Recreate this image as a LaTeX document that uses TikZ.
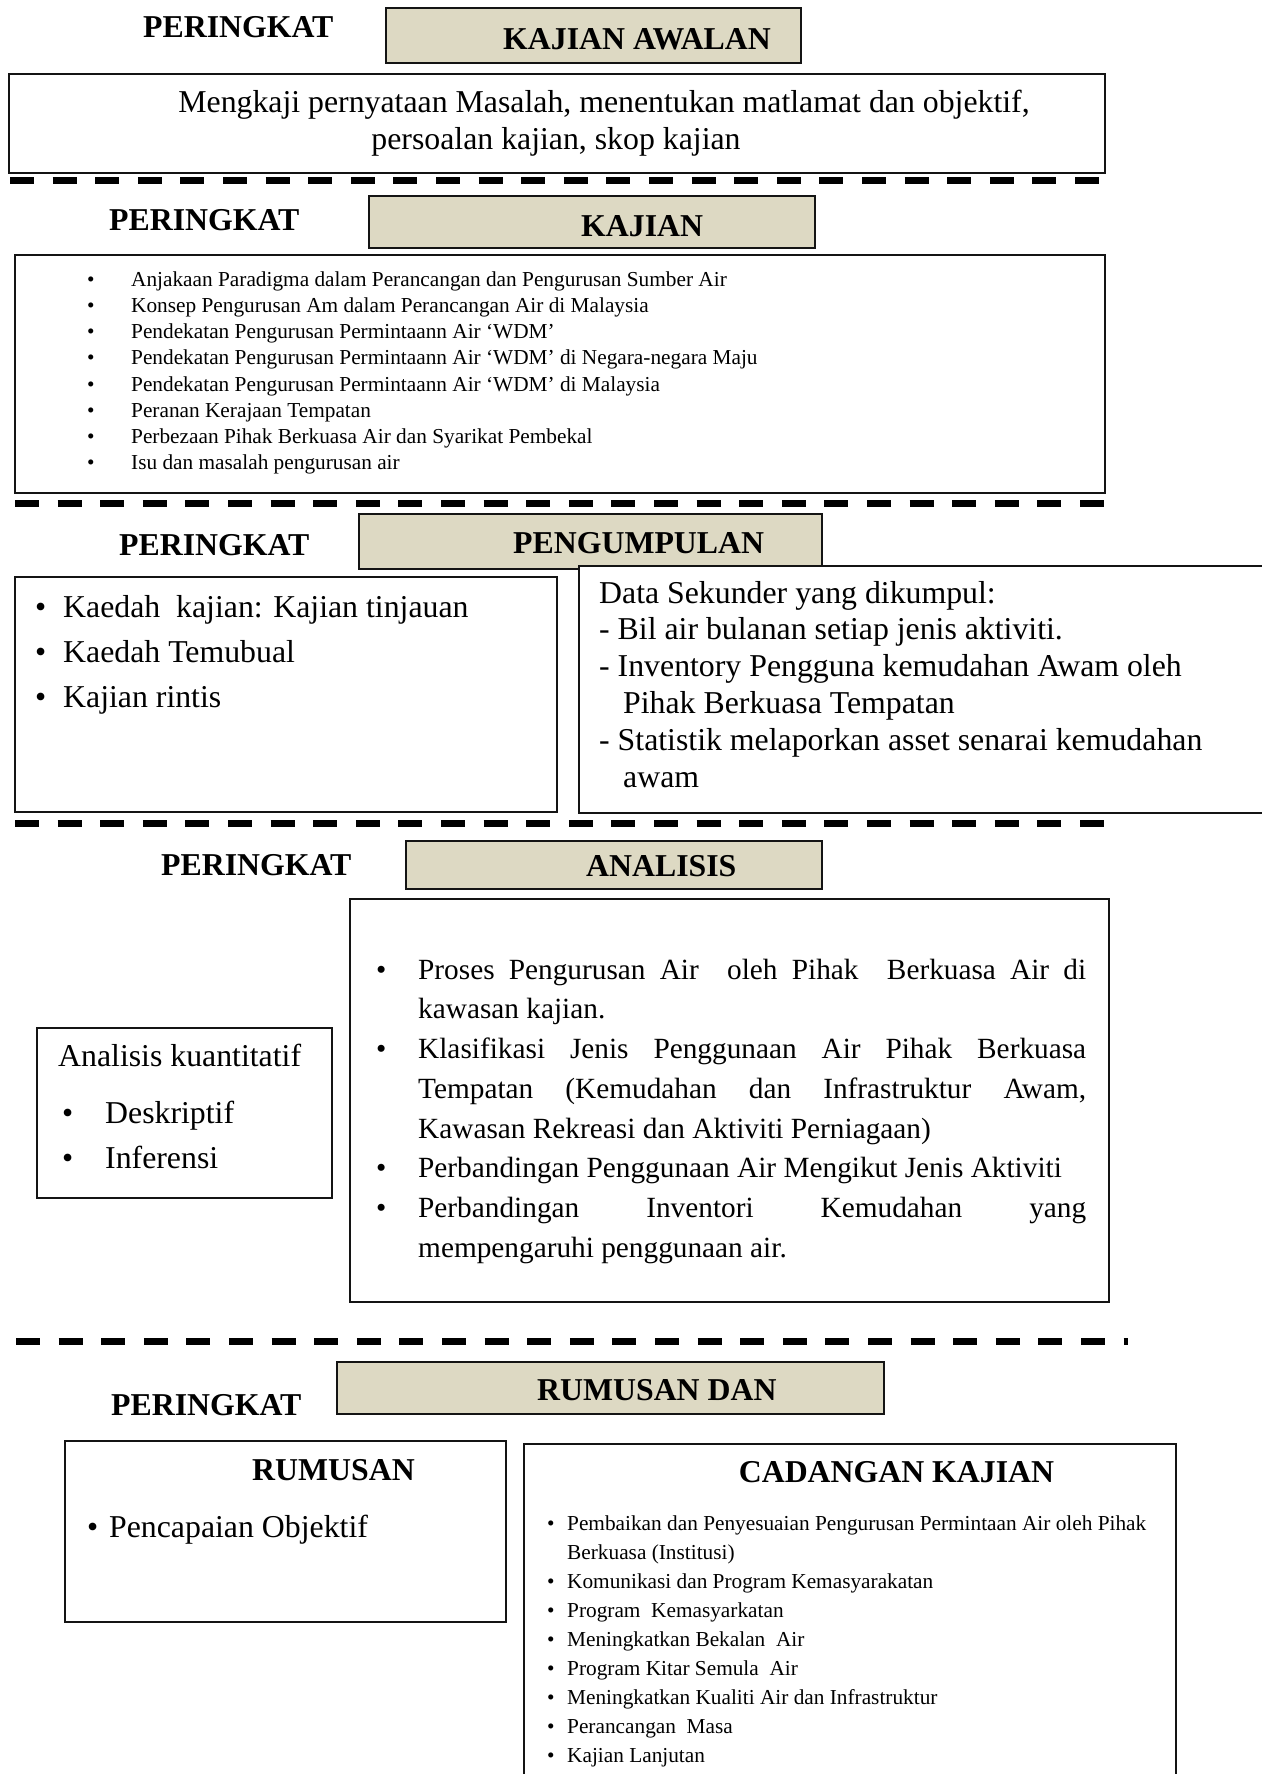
\documentclass[tikz,border=0pt]{standalone}
\usepackage{fontspec}
\setmainfont{Liberation Serif}
\usepackage{tikz}
\usetikzlibrary{positioning}
\definecolor{stagetan}{RGB}{221, 217, 195}
\definecolor{framedark}{RGB}{20, 20, 20}
\newcommand{\itembullet}[1]{\makebox[#1][l]{\textbullet}}

\begin{document}
\begin{tikzpicture}[x=1pt, y=-1pt, every node/.style={inner sep=0pt},
    stagebox/.style={draw=framedark, line width=2.2pt, fill=stagetan, anchor=north west},
    textbox/.style={draw=framedark, line width=2.2pt, fill=white, anchor=north west},
    level/.style={font=\bfseries\fontsize{31.8}{37}\selectfont, anchor=base west},
    divider/.style={line width=7pt, dash pattern=on 24pt off 18.6pt}]
        \useasboundingbox (0,0) rectangle (1261,1774);

        % peringkat kajian awalan
        \node[level] (lvawal) at (143,38) {PERINGKAT};
        \node[stagebox, minimum width=415pt, minimum height=55pt] (stawal) at (385,7) {};
        \node[level] (stawaltxt) at (503,50) {KAJIAN AWALAN};
        \node[textbox, minimum width=1096pt, minimum height=99pt] (awal) at (8,73) {};
        \node[anchor=north, align=center, font=\fontsize{31.8}{37}\selectfont] (awaltxt) at (556,86.1)
            {\strut\hspace*{96pt}Mengkaji pernyataan Masalah, menentukan matlamat dan objektif,\\ persoalan kajian, skop kajian};
        \draw[divider] (10,180.5) -- (1104,180.5);

        % peringkat kajian
        \node[level] (lvkaji) at (109,230) {PERINGKAT};
        \node[stagebox, minimum width=446pt, minimum height=52pt] (stkaji) at (368,195) {};
        \node[level] (stkajitxt) at (581,236) {KAJIAN};
        \node[textbox, minimum width=1090pt, minimum height=238pt] (kaji) at (14,254) {};
        \node[anchor=north west, align=left, font=\fontsize{21.3}{26.2}\selectfont] (kajitxt) at (87,267.7)
            {\strut\itembullet{44pt}Anjakaan Paradigma dalam Perancangan dan Pengurusan Sumber Air\\
             \itembullet{44pt}Konsep Pengurusan Am dalam Perancangan Air di Malaysia\\
             \itembullet{44pt}Pendekatan Pengurusan Permintaann Air ‘WDM’\\
             \itembullet{44pt}Pendekatan Pengurusan Permintaann Air ‘WDM’ di Negara-negara Maju\\
             \itembullet{44pt}Pendekatan Pengurusan Permintaann Air ‘WDM’ di Malaysia\\
             \itembullet{44pt}Peranan Kerajaan Tempatan\\
             \itembullet{44pt}Perbezaan Pihak Berkuasa Air dan Syarikat Pembekal\\
             \itembullet{44pt}Isu dan masalah pengurusan air};
        \draw[divider] (15,503) -- (1104,503);

        % peringkat pengumpulan
        \node[level] (lvkumpul) at (119,555) {PERINGKAT};
        \node[stagebox, minimum width=463pt, minimum height=55pt] (stkumpul) at (358,513) {};
        \node[level] (stkumpultxt) at (513,553) {PENGUMPULAN};
        \node[textbox, minimum width=542pt, minimum height=235pt] (kaedah) at (14,576) {};
        \node[anchor=north west, align=left, font=\fontsize{31.8}{45}\selectfont] (kaedahtxt) at (35,585.5)
            {\strut\itembullet{28pt}Kaedah\ \ kajian: Kajian tinjauan\\
             \itembullet{28pt}Kaedah Temubual\\
             \itembullet{28pt}Kajian rintis};
        \node[textbox, minimum width=720pt, minimum height=247pt] (sekunder) at (578,565) {};
        \node[anchor=north west, align=left, font=\fontsize{31.8}{36.8}\selectfont] (sekundertxt) at (599,577.2)
            {\strut Data Sekunder yang dikumpul:\\
             - Bil air bulanan setiap jenis aktiviti.\\
             - Inventory Pengguna kemudahan Awam oleh\\
             \hspace*{24pt}Pihak Berkuasa Tempatan\\
             - Statistik melaporkan asset senarai kemudahan\\
             \hspace*{24pt}awam};
        \draw[divider] (15,823) -- (1104,823);

        % peringkat analisis
        \node[level] (lvanalisis) at (161,875) {PERINGKAT};
        \node[stagebox, minimum width=416pt, minimum height=48pt] (stanalisis) at (405,840) {};
        \node[level] (stanalisistxt) at (586,876) {ANALISIS};
        \node[textbox, minimum width=759pt, minimum height=403pt] (proses) at (349,898) {};
        \node[anchor=north west, align=left, font=\fontsize{29.3}{39.7}\selectfont] (prosestxt) at (376,951.2)
            {\strut\itembullet{42pt}\makebox[668pt][s]{Proses Pengurusan Air\ \ oleh Pihak\ \ Berkuasa Air di}\\
             \hspace*{42pt}kawasan kajian.\\
             \itembullet{42pt}\makebox[668pt][s]{Klasifikasi Jenis Penggunaan Air Pihak Berkuasa}\\
             \hspace*{42pt}\makebox[668pt][s]{Tempatan (Kemudahan dan Infrastruktur Awam,}\\
             \hspace*{42pt}Kawasan Rekreasi dan Aktiviti Perniagaan)\\
             \itembullet{42pt}Perbandingan Penggunaan Air Mengikut Jenis Aktiviti\\
             \itembullet{42pt}\makebox[668pt][s]{Perbandingan Inventori Kemudahan yang}\\
             \hspace*{42pt}mempengaruhi penggunaan air.};
        \node[textbox, minimum width=295pt, minimum height=170pt] (kuanti) at (36,1027) {};
        \node[anchor=north west, align=left, font=\fontsize{31.8}{45}\selectfont] (kuantitxt) at (58,1034.5)
            {\strut Analisis kuantitatif\\[12pt]
             \hspace*{4pt}\itembullet{43pt}Deskriptif\\
             \hspace*{4pt}\itembullet{43pt}Inferensi};
        \draw[divider] (16,1341) -- (1128,1341);

        % peringkat rumusan dan cadangan
        \node[level] (lvrumus) at (111,1415) {PERINGKAT};
        \node[stagebox, minimum width=547pt, minimum height=52pt] (strumus) at (336,1361) {};
        \node[level] (strumustxt) at (537,1400) {RUMUSAN DAN};
        \node[textbox, minimum width=441pt, minimum height=181pt] (rumus) at (64,1440) {};
        \node[level, anchor=base] (rumushead) at (333.5,1480) {RUMUSAN};
        \node[anchor=base west, font=\fontsize{31.8}{37}\selectfont] (rumustxt) at (87,1537)
            {\itembullet{22pt}Pencapaian Objektif};
        \node[textbox, minimum width=652pt, minimum height=400pt] (cadang) at (523,1443) {};
        \node[level, anchor=base] (cadanghead) at (896.5,1482) {CADANGAN KAJIAN};
        \node[anchor=north west, align=left, font=\fontsize{21.3}{29.1}\selectfont] (cadangtxt) at (547,1509.6)
            {\strut\itembullet{20pt}Pembaikan dan Penyesuaian Pengurusan Permintaan Air oleh Pihak\\
             \hspace*{20pt}Berkuasa (Institusi)\\
             \itembullet{20pt}Komunikasi dan Program Kemasyarakatan\\
             \itembullet{20pt}Program\ \ Kemasyarkatan\\
             \itembullet{20pt}Meningkatkan Bekalan\ \ Air\\
             \itembullet{20pt}Program Kitar Semula\ \ Air\\
             \itembullet{20pt}Meningkatkan Kualiti Air dan Infrastruktur\\
             \itembullet{20pt}Perancangan\ \ Masa\\
             \itembullet{20pt}Kajian Lanjutan};
    \end{tikzpicture}
\end{document}
